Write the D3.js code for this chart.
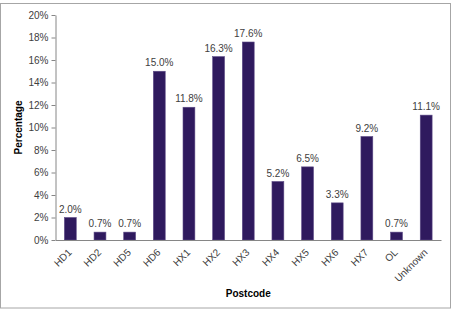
<!DOCTYPE html>
<html><head><meta charset="utf-8">
<script src="https://cdn.jsdelivr.net/npm/d3@7"></script>
<style>body{margin:0;background:#fff;}svg{display:block;font-family:"Liberation Sans",Arial,sans-serif;}</style>
</head><body><svg id="c" width="452" height="309"></svg>
<script>
const categories = ["HD1","HD2","HD5","HD6","HX1","HX2","HX3","HX4","HX5","HX6","HX7","OL","Unknown"];
const values = [2.0,0.7,0.7,15.0,11.8,16.3,17.6,5.2,6.5,3.3,9.2,0.7,11.1];
const yTicks = [0,2,4,6,8,10,12,14,16,18,20];

const svg = d3.select("#c");
svg.append("rect").attr("x",0.5).attr("y",3.5).attr("width",450).attr("height",304.5)
  .attr("fill","#fff").attr("stroke","#a6a6a6").attr("stroke-width",1);

const L=55.5, R=441, T=15, B=240;
const x = d3.scaleBand().domain(categories).range([L,R]).paddingInner(0.6).paddingOuter(0.3);
const y = d3.scaleLinear().domain([0,20]).range([B,T]);

const ya = svg.append("g").attr("transform",`translate(${L},0)`)
  .call(d3.axisLeft(y).tickValues(yTicks).tickFormat(d=>d+"%").tickSize(4).tickSizeOuter(0));
ya.select(".domain").attr("stroke","#868686");
ya.selectAll(".tick line").attr("stroke","#868686");
ya.selectAll(".tick text").attr("font-size","10px").attr("fill","#404040").attr("font-family","Liberation Sans, Arial, sans-serif").attr("x",-7);

svg.selectAll(".bar").data(values).join("rect").attr("class","bar")
  .attr("x",(d,i)=>x(categories[i])).attr("width",x.bandwidth())
  .attr("y",d=>y(d)).attr("height",d=>B-y(d))
  .attr("fill","#2f1a5e").attr("stroke","#5c4a86").attr("stroke-width",0.6);

svg.selectAll(".lbl").data(values).join("text").attr("class","lbl")
  .attr("x",(d,i)=>x(categories[i])+x.bandwidth()/2).attr("y",d=>y(d)-5)
  .attr("text-anchor","middle").attr("font-size","10px").attr("fill","#404040")
  .text(d=>d.toFixed(1)+"%");

const xa = svg.append("g").attr("transform",`translate(0,${B})`)
  .call(d3.axisBottom(x).tickSize(0).tickSizeOuter(0));
xa.select(".domain").attr("stroke","#868686");
xa.selectAll(".tick text").attr("font-size","10px").attr("fill","#404040")
  .attr("font-family","Liberation Sans, Arial, sans-serif")
  .attr("text-anchor","end").attr("dy",0).attr("y",0)
  .attr("transform","translate(2,13) rotate(-45)");

svg.append("text").attr("x",(L+R)/2).attr("y",297).attr("text-anchor","middle")
  .attr("font-size","10px").attr("font-weight","bold").attr("fill","#000").text("Postcode");
svg.append("text").attr("transform",`translate(22,${(T+B)/2}) rotate(-90)`).attr("text-anchor","middle")
  .attr("font-size","10px").attr("font-weight","bold").attr("fill","#000").text("Percentage");
</script></body></html>
